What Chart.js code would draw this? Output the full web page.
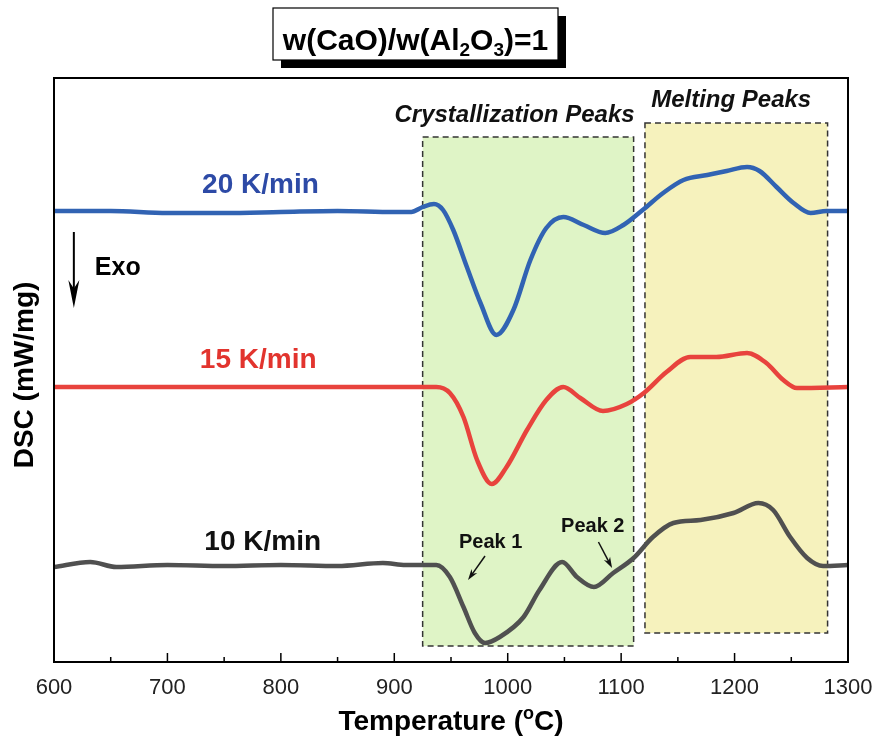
<!DOCTYPE html>
<html>
<head>
<meta charset="utf-8">
<title>DSC curves</title>
<script src="https://cdn.jsdelivr.net/npm/chart.js@4.4.1/dist/chart.umd.min.js"></script>
<style>
    html, body { margin: 0; padding: 0; background: #fff; }
    #wrap { width: 881px; height: 743px; }
</style>
</head>
<body>
<div id="wrap"><canvas id="dsc" width="881" height="743"></canvas></div>
<script>
// Temperature ticks (oC)
const xTicks = [600, 700, 800, 900, 1000, 1100, 1200, 1300];

// DSC curves, offset so they stack (arbitrary mW/mg units)
const temp20 = [600, 650, 700, 750, 800, 850, 900, 915, 925, 935, 943, 952, 964, 976, 990, 1005, 1020, 1034, 1049, 1067, 1086, 1102, 1119, 1137, 1155, 1176, 1193, 1211, 1222, 1237, 1252, 1267, 1281, 1300];
const dsc20  = [4.51, 4.51, 4.49, 4.49, 4.50, 4.51, 4.50, 4.50, 4.55, 4.58, 4.52, 4.32, 3.95, 3.59, 3.27, 3.52, 4.02, 4.34, 4.45, 4.37, 4.29, 4.37, 4.52, 4.69, 4.82, 4.87, 4.91, 4.95, 4.91, 4.75, 4.59, 4.49, 4.51, 4.51];

const temp15 = [600, 700, 800, 900, 937, 949, 961, 973, 986, 999, 1017, 1034, 1049, 1064, 1084, 1105, 1120, 1140, 1161, 1184, 1211, 1228, 1243, 1255, 1300];
const dsc15  = [2.75, 2.75, 2.75, 2.75, 2.75, 2.69, 2.45, 2.02, 1.78, 1.95, 2.32, 2.62, 2.75, 2.64, 2.51, 2.58, 2.69, 2.90, 3.05, 3.05, 3.09, 2.99, 2.82, 2.74, 2.75];

const temp10 = [600, 632, 655, 700, 750, 800, 850, 890, 910, 937, 949, 961, 971, 980, 993, 1014, 1028, 1048, 1061, 1076, 1093, 1111, 1128, 1146, 1170, 1199, 1221, 1234, 1249, 1264, 1278, 1300];
const dsc10  = [0.95, 1.00, 0.95, 0.97, 0.96, 0.97, 0.96, 0.99, 0.97, 0.97, 0.85, 0.55, 0.29, 0.19, 0.25, 0.45, 0.72, 1.00, 0.85, 0.75, 0.89, 1.04, 1.25, 1.39, 1.42, 1.49, 1.59, 1.52, 1.25, 1.04, 0.96, 0.97];

// Shaded regions [tStart, tEnd, yBottom, yTop]
const crystRegion = [925, 1111, 0.16, 5.25];
const meltRegion  = [1121, 1282, 0.29, 5.39];

function pts(xs, ys) {
    return xs.map(function (x, i) { return { x: x, y: ys[i] }; });
}

const FONT = "'Liberation Sans', Arial, sans-serif";

// Draws the shaded boxes behind the curves
const regionsPlugin = {
    id: 'regions',
    beforeDatasetsDraw: function (chart) {
        const ctx = chart.ctx, xs = chart.scales.x, ys = chart.scales.y;
        [[crystRegion, '#dff4c6'], [meltRegion, '#f6f2bd']].forEach(function (r) {
            const b = r[0];
            const x0 = xs.getPixelForValue(b[0]), x1 = xs.getPixelForValue(b[1]);
            const y0 = ys.getPixelForValue(b[3]), y1 = ys.getPixelForValue(b[2]);
            ctx.save();
            ctx.fillStyle = r[1];
            ctx.fillRect(x0, y0, x1 - x0, y1 - y0);
            ctx.setLineDash([6, 4]);
            ctx.lineWidth = 1.5;
            ctx.strokeStyle = '#333';
            ctx.strokeRect(x0, y0, x1 - x0, y1 - y0);
            ctx.restore();
        });
    }
};

function arrow(ctx, x0, y0, x1, y1, headLen, headW, lw) {
    const a = Math.atan2(y1 - y0, x1 - x0);
    ctx.beginPath();
    ctx.moveTo(x0, y0);
    ctx.lineTo(x1 - Math.cos(a) * headLen * 0.6, y1 - Math.sin(a) * headLen * 0.6);
    ctx.lineWidth = lw;
    ctx.stroke();
    ctx.beginPath();
    ctx.moveTo(x1, y1);
    ctx.lineTo(x1 - Math.cos(a) * headLen + Math.sin(a) * headW / 2, y1 - Math.sin(a) * headLen - Math.cos(a) * headW / 2);
    ctx.lineTo(x1 - Math.cos(a) * headLen * 0.7, y1 - Math.sin(a) * headLen * 0.7);
    ctx.lineTo(x1 - Math.cos(a) * headLen - Math.sin(a) * headW / 2, y1 - Math.sin(a) * headLen + Math.cos(a) * headW / 2);
    ctx.closePath();
    ctx.fill();
}

// Frame, inward ticks, labels, title box
const decorPlugin = {
    id: 'decor',
    afterDraw: function (chart) {
        const ctx = chart.ctx, xs = chart.scales.x, ys = chart.scales.y;
        const a = chart.chartArea;
        const X = function (v) { return xs.getPixelForValue(v); };
        const Y = function (v) { return ys.getPixelForValue(v); };
        ctx.save();

        // frame
        ctx.strokeStyle = '#000';
        ctx.lineWidth = 2;
        ctx.strokeRect(a.left, a.top, a.right - a.left, a.bottom - a.top);

        // ticks on bottom axis, pointing inside
        ctx.lineWidth = 1.5;
        for (let t = 600; t <= 1300; t += 50) {
            const len = (t % 100 === 0) ? 9 : 5;
            ctx.beginPath();
            ctx.moveTo(X(t), a.bottom);
            ctx.lineTo(X(t), a.bottom - len);
            ctx.stroke();
        }

        ctx.textAlign = 'center';
        ctx.textBaseline = 'middle';

        // rate labels
        ctx.font = 'bold 28px ' + FONT;
        ctx.fillStyle = '#2d4aa6';
        ctx.fillText('20 K/min', X(782), Y(4.77));
        ctx.fillStyle = '#e2342e';
        ctx.fillText('15 K/min', X(780), Y(3.02));
        ctx.fillStyle = '#111';
        ctx.fillText('10 K/min', X(784), Y(1.20));

        // region labels
        ctx.font = 'italic bold 24px ' + FONT;
        ctx.fillText('Crystallization Peaks', X(1006), Y(5.47));
        ctx.fillText('Melting Peaks', X(1197), Y(5.62));

        // peak labels and arrows
        ctx.font = 'bold 20px ' + FONT;
        ctx.fillText('Peak 1', X(985), Y(1.20));
        ctx.fillText('Peak 2', X(1075), Y(1.36));
        ctx.strokeStyle = '#111';
        arrow(ctx, X(980), Y(1.06), X(965), Y(0.82), 11, 7, 1.5);
        arrow(ctx, X(1080), Y(1.20), X(1092), Y(0.94), 11, 7, 1.5);

        // Exo arrow
        ctx.fillStyle = '#000';
        ctx.strokeStyle = '#000';
        arrow(ctx, X(617.5), Y(4.30), X(617.5), Y(3.54), 28, 11, 2);
        ctx.textAlign = 'left';
        ctx.font = 'bold 25px ' + FONT;
        ctx.fillText('Exo', X(636), Y(3.94));

        // axis titles
        const t1 = 'Temperature (', t2 = 'o', t3 = 'C)';
        ctx.font = 'bold 28px ' + FONT;
        const w1 = ctx.measureText(t1).width, w3 = ctx.measureText(t3).width;
        ctx.font = 'bold 18px ' + FONT;
        const w2 = ctx.measureText(t2).width;
        let x = (a.left + a.right) / 2 - (w1 + w2 + w3) / 2;
        const yb = 730;
        ctx.textBaseline = 'alphabetic';
        ctx.font = 'bold 28px ' + FONT;
        ctx.fillText(t1, x, yb);
        ctx.font = 'bold 18px ' + FONT;
        ctx.fillText(t2, x + w1, yb - 11);
        ctx.font = 'bold 28px ' + FONT;
        ctx.fillText(t3, x + w1 + w2, yb);

        ctx.save();
        ctx.translate(25, (a.top + a.bottom) / 2 + 5);
        ctx.rotate(-Math.PI / 2);
        ctx.textAlign = 'center';
        ctx.textBaseline = 'middle';
        ctx.fillText('DSC (mW/mg)', 0, 0);
        ctx.restore();

        // title box with drop shadow
        const bx = 273, by = 8, bw = 285, bh = 52;
        ctx.fillStyle = '#000';
        ctx.fillRect(bx + 8, by + 8, bw, bh);
        ctx.fillStyle = '#fff';
        ctx.fillRect(bx, by, bw, bh);
        ctx.lineWidth = 1.2;
        ctx.strokeStyle = '#000';
        ctx.strokeRect(bx, by, bw, bh);

        const parts = [['w(CaO)/w(Al', 0], ['2', 1], ['O', 0], ['3', 1], [')=1', 0]];
        let total = 0;
        parts.forEach(function (p) {
            ctx.font = 'bold ' + (p[1] ? 19 : 30) + 'px ' + FONT;
            total += ctx.measureText(p[0]).width;
        });
        x = bx + bw / 2 - total / 2;
        ctx.fillStyle = '#000';
        ctx.textAlign = 'left';
        ctx.textBaseline = 'alphabetic';
        parts.forEach(function (p) {
            ctx.font = 'bold ' + (p[1] ? 19 : 30) + 'px ' + FONT;
            ctx.fillText(p[0], x, by + 42 + (p[1] ? 6 : 0));
            x += ctx.measureText(p[0]).width;
        });

        ctx.restore();
    }
};

const lineDefaults = {
    showLine: true,
    fill: false,
    borderWidth: 4.5,
    pointRadius: 0,
    cubicInterpolationMode: 'monotone'
};

new Chart(document.getElementById('dsc'), {
    type: 'scatter',
    data: {
        datasets: [
            Object.assign({ label: '20 K/min', data: pts(temp20, dsc20), borderColor: '#3163b3' }, lineDefaults),
            Object.assign({ label: '15 K/min', data: pts(temp15, dsc15), borderColor: '#e8433d' }, lineDefaults),
            Object.assign({ label: '10 K/min', data: pts(temp10, dsc10), borderColor: '#505050' }, lineDefaults)
        ]
    },
    options: {
        responsive: false,
        animation: false,
        layout: { padding: { top: 78, right: 33, left: 0, bottom: 0 } },
        plugins: {
            legend: { display: false },
            tooltip: { enabled: false }
        },
        scales: {
            x: {
                type: 'linear',
                min: xTicks[0],
                max: xTicks[xTicks.length - 1],
                afterBuildTicks: function (s) { s.ticks = xTicks.map(function (v) { return { value: v }; }); },
                afterFit: function (s) { s.height = 81; s.paddingLeft = 0; s.paddingRight = 0; },
                grid: { display: false, drawTicks: false },
                border: { display: false },
                ticks: {
                    padding: 13,
                    color: '#222',
                    font: { family: FONT, size: 22 },
                    callback: function (v) { return String(v); }
                }
            },
            y: {
                min: 0,
                max: 5.84,
                afterFit: function (s) { s.width = 54; },
                grid: { display: false, drawTicks: false },
                border: { display: false },
                ticks: { display: false }
            }
        }
    },
    plugins: [regionsPlugin, decorPlugin]
});
</script>
</body>
</html>
